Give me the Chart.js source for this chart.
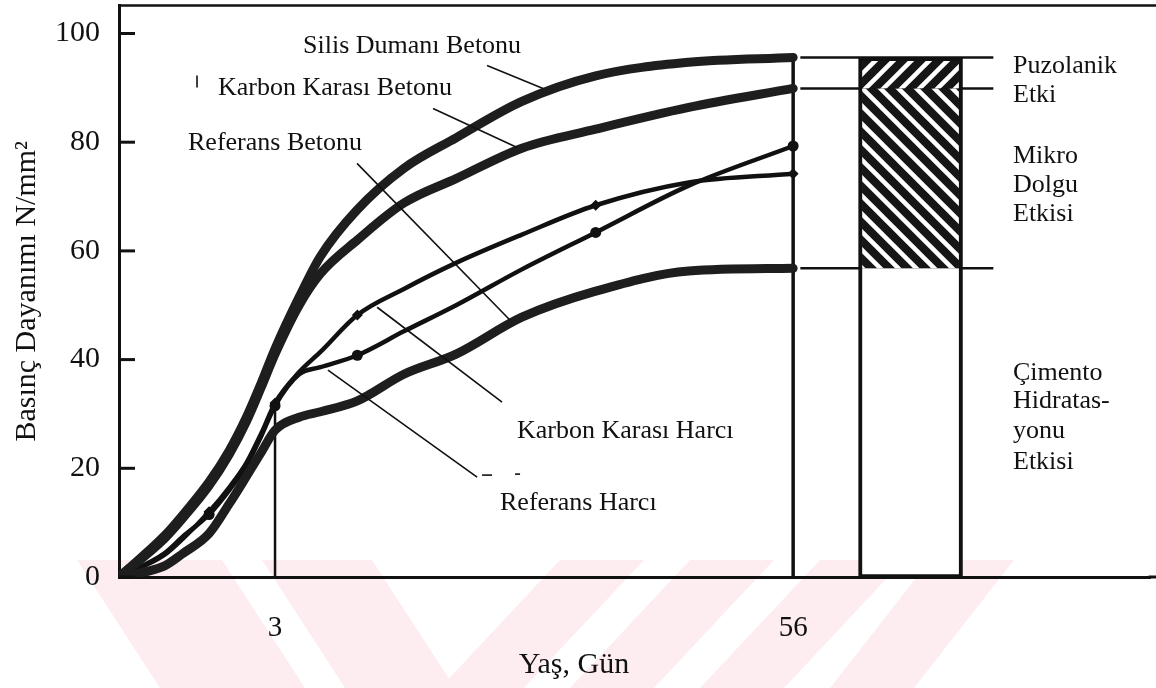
<!DOCTYPE html>
<html>
<head>
<meta charset="utf-8">
<script src="https://cdn.jsdelivr.net/npm/chart.js@4.4.1/dist/chart.umd.min.js"></script>
<style>
  html, body { margin: 0; padding: 0; background: #fff; }
  canvas { display: block; }
</style>
</head>
<body>
<canvas id="chart" width="1156" height="688"></canvas>
<script>
// ages in days (x axis is drawn on a square-root scale)
const ages = [0, 0.25, 0.5, 1, 1.5, 2, 2.5, 3, 4, 5, 7, 10, 14, 20, 28, 40, 56]

// compressive strength, N/mm2
const silisBeton    = [0, 7.5, 11.4, 17.5, 23.3, 29.4, 35.8, 42, 51.5, 59, 67.6, 75.2, 80.8, 87.5, 92.2, 94.7, 95.6]
const karbonBeton   = [0, 7, 10.8, 16.8, 22.6, 28.6, 35, 41, 50, 55.8, 62, 68.8, 73.3, 78.9, 82.4, 86.4, 89.9]
const referansBeton = [0, 2, 4.3, 8, 13.5, 18.5, 23, 27, 29.4, 30.4, 32.4, 37.3, 41, 47.8, 52.6, 56.3, 56.8]
const karbonHarc    = [0, 4, 7, 12, 16.5, 21, 26.5, 32, 37.7, 41.4, 48.2, 53, 57.8, 63, 68.4, 72.6, 74.2]
const referansHarc  = [0, 4.3, 7.4, 11.5, 16, 20.5, 26, 31.5, 37.3, 38.6, 40.8, 45.2, 50, 56.6, 63.4, 72, 79.3]
const markerAges = [1, 3, 7, 28, 56]

const xTicks = [3, 56]
const yTicks = [0, 20, 40, 60, 80, 100]

const last = ages.length - 1
const i3 = ages.indexOf(3)

// schematic bar to the right of the curves
const barAge = 77.2
const barLineFrom = 57.2
const barLineTo = 94.2

// leader lines [day, value, day, value]
const leaders = [
  [16.69, 94.12, 22.16, 89.89],
  [12.15, 86.21, 19.53, 79.04],
  [6.98, 76.10, 18.85, 47.24],
  [8.21, 49.63, 18.08, 32.17],
  [5.38, 38.05, 15.80, 18.38],
  [0.75, 92.28, 0.75, 90.07],
  [16.24, 18.75, 17.15, 18.75],
  [19.33, 18.93, 19.82, 18.93]
]

const texts = [
  ['Silis Dumanı Betonu', 303, 53],
  ['Karbon Karası Betonu', 218, 95],
  ['Referans Betonu', 188, 150],
  ['Karbon Karası Harcı', 517, 438],
  ['Referans Harcı', 500, 510],
  ['Puzolanik', 1013, 73],
  ['Etki', 1013, 102],
  ['Mikro', 1013, 163],
  ['Dolgu', 1013, 192],
  ['Etkisi', 1013, 221],
  ['Çimento', 1013, 380],
  ['Hidratas-', 1013, 408],
  ['yonu', 1013, 438],
  ['Etkisi', 1013, 469]
]

const FONT = '"Liberation Serif", "Times New Roman", serif'
Chart.defaults.font.family = FONT
Chart.defaults.color = '#111'

const canvas = document.getElementById('chart')
const ctx = canvas.getContext('2d')

const sq = d => Math.sqrt(d)
const pts = vals => ages.map((a, i) => ({ x: sq(a), y: vals[i] }))

function hatch(dir) {
  const s = 18
  const c = document.createElement('canvas')
  c.width = s; c.height = s
  const g = c.getContext('2d')
  g.fillStyle = '#161616'
  g.fillRect(0, 0, s, s)
  g.strokeStyle = '#fff'
  g.lineWidth = 4.5
  g.beginPath()
  for (let k = -1; k <= 1; k++) {
    if (dir === 'back') { g.moveTo(-2, k * s - 2); g.lineTo(s + 2, k * s + s + 2) }
    else { g.moveTo(-2, k * s + s + 2); g.lineTo(s + 2, k * s - 2) }
  }
  g.stroke()
  return ctx.createPattern(c, 'repeat')
}

function thick(label, vals) {
  return {
    type: 'line', label, data: pts(vals), order: 1,
    borderColor: '#1e1e1e', borderWidth: 9, pointRadius: 0,
    cubicInterpolationMode: 'monotone', borderCapStyle: 'round', borderJoinStyle: 'round'
  }
}

function thin(label, vals, style) {
  return {
    type: 'line', label, data: pts(vals), order: 1,
    borderColor: '#111', borderWidth: 4.5,
    pointRadius: ages.map(a => markerAges.includes(a) ? 5.5 : 0),
    pointStyle: style, pointBackgroundColor: '#111', pointBorderWidth: 0,
    cubicInterpolationMode: 'monotone', borderCapStyle: 'round'
  }
}

function rule(a, b, w) {
  return { type: 'line', data: [a, b], order: 1, borderColor: '#111', borderWidth: w, pointRadius: 0 }
}

const ends = [referansBeton[last], karbonBeton[last], silisBeton[last]]

const datasets = [
  {
    type: 'bar', order: 0,
    data: [
      { x: sq(barAge), y: [0, ends[0]] },
      { x: sq(barAge), y: [ends[0], ends[1]] },
      { x: sq(barAge), y: [ends[1], ends[2]] }
    ],
    barThickness: 104,
    backgroundColor: ['#fff', hatch('back'), hatch('fwd')],
    borderColor: '#111',
    borderWidth: [
      { left: 4, right: 4, bottom: 3, top: 0 },
      { left: 4, right: 4, bottom: 0, top: 0 },
      { left: 4, right: 4, bottom: 0, top: 4 }
    ],
    borderSkipped: false
  },
  thick('Silis Dumanı Betonu', silisBeton),
  thick('Karbon Karası Betonu', karbonBeton),
  thick('Referans Betonu', referansBeton),
  thin('Karbon Karası Harcı', karbonHarc, 'rectRot'),
  thin('Referans Harcı', referansHarc, 'circle'),
  rule({ x: sq(3), y: 0 }, { x: sq(3), y: karbonHarc[i3] }, 2.5),
  rule({ x: sq(56), y: 0 }, { x: sq(56), y: silisBeton[last] }, 3.5),
  ...ends.map(v => rule({ x: sq(barLineFrom), y: v }, { x: sq(barLineTo), y: v }, 2.5))
]

const decor = {
  id: 'decor',
  beforeDraw(chart) {
    const g = chart.ctx
    g.save()
    // faint watermark stripes at the bottom of the page
    g.fillStyle = '#fdedf0'
    const band = (tx, bx, w) => {
      g.beginPath()
      g.moveTo(tx, 560); g.lineTo(tx + w, 560); g.lineTo(bx + w, 688); g.lineTo(bx, 688)
      g.closePath(); g.fill()
    }
    band(77, 160, 145)
    band(262, 345, 110)
    ;[[560, 440], [690, 570], [820, 700], [930, 830]].forEach(([t, b]) => band(t, b, 84))
    g.restore()
  },
  afterDatasetsDraw(chart) {
    const g = chart.ctx
    const xs = chart.scales.x, ys = chart.scales.y
    const a = chart.chartArea
    g.save()
    g.strokeStyle = '#111'
    g.lineCap = 'butt'
    // top frame line and the axis line run to the page edge
    g.lineWidth = 2.5
    g.beginPath(); g.moveTo(a.left, a.top); g.lineTo(chart.width, a.top); g.stroke()
    g.lineWidth = 3
    g.beginPath(); g.moveTo(a.right - 2, a.bottom); g.lineTo(chart.width, a.bottom); g.stroke()
    // inward y ticks
    yTicks.forEach(v => {
      const y = ys.getPixelForValue(v)
      g.beginPath(); g.moveTo(a.left, y); g.lineTo(a.left + 16, y); g.stroke()
    })
    // leader lines
    g.lineWidth = 1.6
    leaders.forEach(([d1, v1, d2, v2]) => {
      g.beginPath()
      g.moveTo(xs.getPixelForValue(sq(d1)), ys.getPixelForValue(v1))
      g.lineTo(xs.getPixelForValue(sq(d2)), ys.getPixelForValue(v2))
      g.stroke()
    })
    // labels
    g.fillStyle = '#111'
    g.textBaseline = 'alphabetic'
    g.textAlign = 'left'
    g.font = '26px ' + FONT
    texts.forEach(([t, x, y]) => g.fillText(t, x, y))
    g.textAlign = 'center'
    g.font = '30px ' + FONT
    g.fillText('Yaş, Gün', 574, 673)
    g.restore()
  }
}

new Chart(ctx, {
  type: 'line',
  data: { datasets },
  options: {
    responsive: false,
    animation: false,
    layout: { padding: { top: 5, right: 0, left: 0, bottom: 0 } },
    plugins: { legend: { display: false }, tooltip: { enabled: false } },
    scales: {
      x: {
        type: 'linear', min: 0, max: 11.45, offset: false,
        grid: { display: false },
        border: { display: true, color: '#111', width: 3 },
        afterBuildTicks: s => { s.ticks = xTicks.map(d => ({ value: sq(d) })) },
        afterFit: s => { s.height = 111; s.paddingLeft = 0; s.paddingRight = 0 },
        ticks: {
          autoSkip: false, maxRotation: 0, padding: 26,
          font: { size: 29 },
          callback: v => String(Math.round(v * v))
        }
      },
      y: {
        type: 'linear', min: 0, max: 105.15,
        grid: { display: false },
        border: { display: true, color: '#111', width: 3 },
        afterBuildTicks: s => { s.ticks = yTicks.map(v => ({ value: v })) },
        afterFit: s => { s.width = 119; s.paddingTop = 0; s.paddingBottom = 0 },
        ticks: { padding: 11, font: { size: 30 } },
        title: {
          display: true, text: 'Basınç Dayanımı N/mm²',
          font: { size: 30 }, padding: { top: 9, bottom: 0 }
        }
      }
    }
  },
  plugins: [decor]
})
</script>
</body>
</html>
